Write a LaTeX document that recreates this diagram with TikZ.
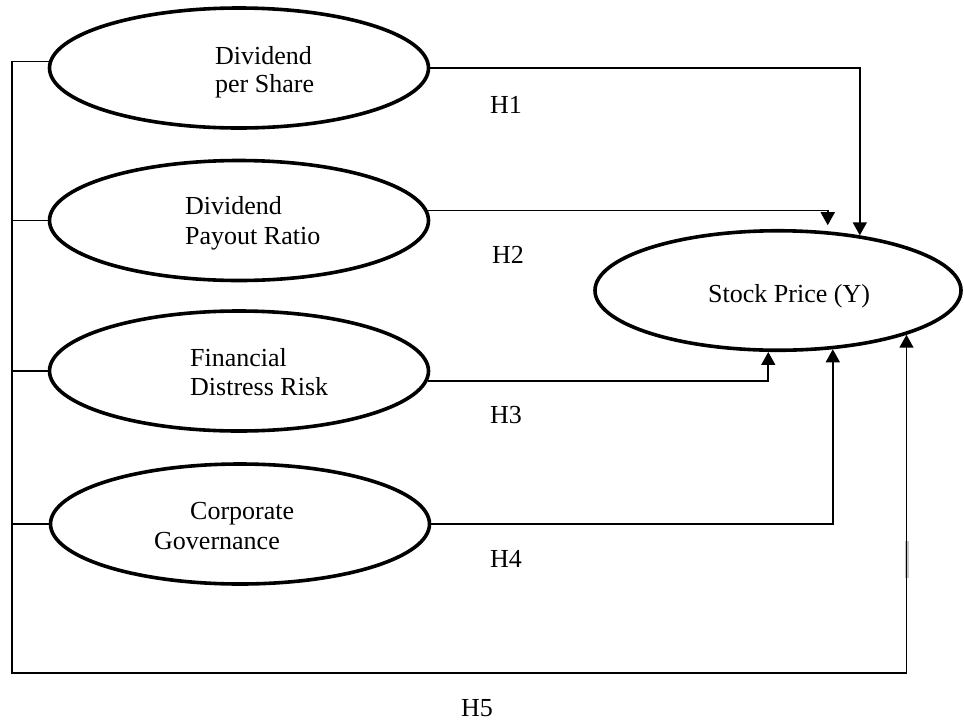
\documentclass[tikz,border=0pt]{standalone}
\usepackage{fontspec}
\setmainfont{Liberation Serif}
\usetikzlibrary{arrows.meta,shapes.geometric}
\begin{document}
\begin{tikzpicture}[x=1pt,y=-1pt,
  var/.style={draw, ellipse, line width=3.6pt, inner sep=0pt, minimum width=379pt, minimum height=120pt},
  lbl/.style={anchor=base west, inner sep=0pt, font=\fontsize{26}{28}\selectfont},
  conn/.style={line width=1.6pt},
  arr/.style={conn, -{Triangle[width=14pt,length=13pt]}}]
\useasboundingbox (0,0) rectangle (964,721);
% variables
\node[var] (e1) at (239,68) {};
\node[var] (e2) at (239,220.5) {};
\node[var] (e3) at (239,371) {};
\node[var] (e4) at (240,524) {};
\node[var, minimum width=366pt, minimum height=119.5pt] (sp) at (778,290.5) {};
% texts
\node[lbl] (t1a) at (215,64) {Dividend};
\node[lbl] (t1b) at (215,92) {per Share};
\node[lbl] (t2a) at (185,214) {Dividend};
\node[lbl] (t2b) at (185,244) {Payout Ratio};
\node[lbl] (t3a) at (190,366) {Financial};
\node[lbl] (t3b) at (190,395) {Distress Risk};
\node[lbl] (t4a) at (190,519) {Corporate};
\node[lbl] (t4b) at (154,549) {Governance};
\node[lbl] (tsp) at (708,302) {Stock Price (Y)};
% hypothesis labels
\node[lbl] (h1) at (490,113) {H1};
\node[lbl] (h2) at (492,263) {H2};
\node[lbl] (h3) at (490,423) {H3};
\node[lbl] (h4) at (490,567) {H4};
\node[lbl] (h5) at (461,716.5) {H5};
% small grey mark
\draw[gray!45, line width=4pt] (907,541) -- (907,578);
% connectors
\coordinate (bl) at (12,673);
\draw[arr] (e1.east) -| (sp.34);
\draw[arr, shorten >=6pt] (e2.3) -| (sp.50);
\draw[arr] (e3.-3) -| (sp.261);
\draw[arr] (e4.east) -| (sp.313);
\draw[arr] (e1.178) -| (bl) -| (sp.-19);
\draw[conn] (e2.west) -- (e2.west -| bl);
\draw[conn] (e3.west) -- (e3.west -| bl);
\draw[conn] (e4.west) -- (e4.west -| bl);
\end{tikzpicture}
\end{document}
